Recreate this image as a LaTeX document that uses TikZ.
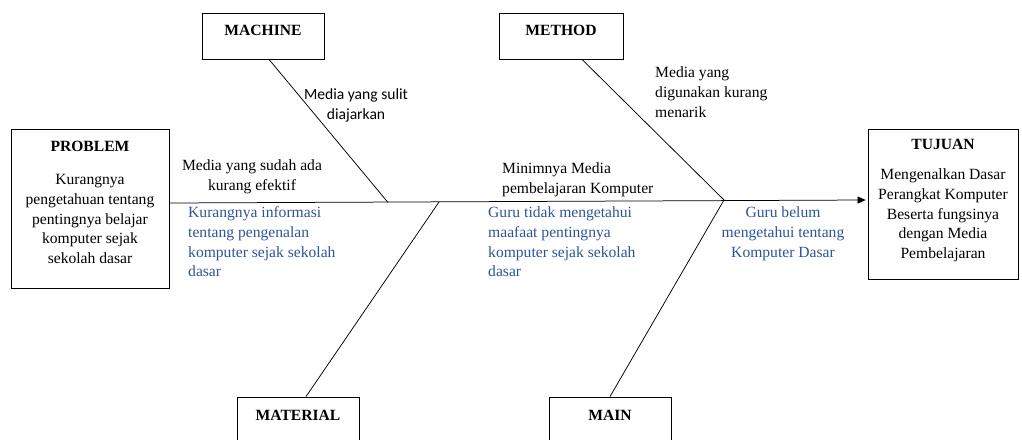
\documentclass[tikz,border=0pt]{standalone}
\usepackage{fontspec}
\setmainfont{Liberation Serif}
\newfontfamily\calfont{Carlito}
\usetikzlibrary{arrows.meta,calc}
\definecolor{txtblue}{HTML}{2F5496}
\newcommand\fsz{\fontsize{15.6}{19.6}\selectfont}
\begin{document}
\begin{tikzpicture}[x=1pt,y=-1pt,
  box/.style={draw, line width=0.8pt, inner sep=0},
  bone/.style={line width=0.75pt},
  lbl/.style={inner sep=0, font=\fsz, align=center},
  bluelbl/.style={lbl, text=txtblue},
  sanslbl/.style={inner sep=0, font=\calfont\fsz, align=center}]
\useasboundingbox (0,0) rectangle (1022,439);
% boxes
\node[box, minimum width=158pt, minimum height=159pt] (problem) at (90,208.5) {};
\node[box, minimum width=150pt, minimum height=150pt] (tujuan) at (943,204) {};
\node[box, minimum width=122pt, minimum height=46pt] (machine) at (263,36) {};
\node[box, minimum width=124pt, minimum height=46pt] (method) at (561,36) {};
\node[box, minimum width=122pt, minimum height=53pt] (material) at (298,423.5) {};
\node[box, minimum width=122pt, minimum height=53pt] (main) at (610,423.5) {};
% titles
\node[lbl, anchor=north] (problemT) at (90,137.5) {\strut\textbf{PROBLEM}};
\node[lbl, anchor=north] (tujuanT) at (943,135.5) {\strut\textbf{TUJUAN}};
\node[lbl, anchor=north] (machineT) at (263,21.5) {\strut\textbf{MACHINE}};
\node[lbl, anchor=north] (methodT) at (561,21.5) {\strut\textbf{METHOD}};
\node[lbl, anchor=north] (materialT) at (298,406.5) {\strut\textbf{MATERIAL}};
\node[lbl, anchor=north] (mainT) at (610,406.5) {\strut\textbf{MAIN}};
% box bodies
\node[lbl, anchor=north] (problemB) at (90,171) {\strut Kurangnya\\pengetahuan tentang\\pentingnya belajar\\komputer sejak\\sekolah dasar};
\node[lbl, anchor=north] (tujuanB) at (943,166) {\strut Mengenalkan Dasar\\Perangkat Komputer\\Beserta fungsinya\\dengan Media\\Pembelajaran};
% spine and bones
\coordinate (j1) at (388,202.5);
\coordinate (j2) at (439,202);
\coordinate (j3) at (724,200);
\draw[bone, -{Triangle[length=8pt,width=7pt]}] ($(problem.east)+(0,-5.5)$) -- ($(tujuan.west)+(-2,-4)$);
\draw[bone] ($(machine.south)+(6,0)$) -- (j1);
\draw[bone] ($(method.south)+(21,0)$) -- (j3);
\draw[bone] ($(material.north)+(8,0)$) -- (j2);
\draw[bone] (main.north) -- (j3);
% cause labels
\node[sanslbl, anchor=north] (c1) at (356,86) {\strut Media yang sulit\\diajarkan};
\node[lbl, anchor=north] (c2) at (252,157) {\strut Media yang sudah ada\\kurang efektif};
\node[lbl, anchor=north west, align=left] (c3) at (655,64) {\strut Media yang\\digunakan kurang\\menarik};
\node[lbl, anchor=north west, align=left] (c4) at (502,160) {\strut Minimnya Media\\pembelajaran Komputer};
\node[bluelbl, anchor=north west, align=left] (c5) at (188,204) {\strut Kurangnya informasi\\tentang pengenalan\\komputer sejak sekolah\\dasar};
\node[bluelbl, anchor=north west, align=left] (c6) at (488,204) {\strut Guru tidak mengetahui\\maafaat pentingnya\\komputer sejak sekolah\\dasar};
\node[bluelbl, anchor=north] (c7) at (783,204) {\strut Guru belum\\mengetahui tentang\\Komputer Dasar};
\end{tikzpicture}
\end{document}
